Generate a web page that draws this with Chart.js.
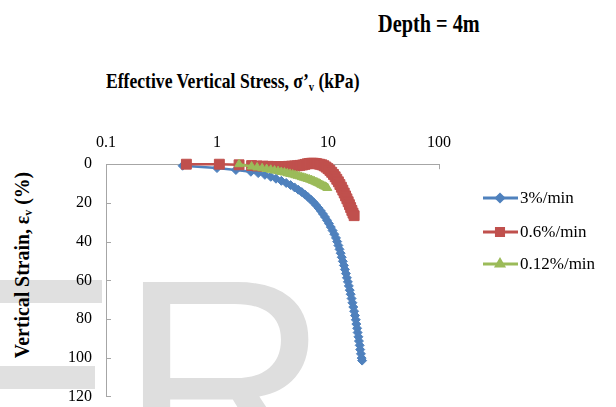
<!DOCTYPE html>
<html>
<head>
<meta charset="utf-8">
<script src="https://cdn.jsdelivr.net/npm/chart.js@4.4.0/dist/chart.umd.min.js"></script>
<style>
  html, body { margin: 0; padding: 0; width: 616px; height: 407px; overflow: hidden; background: #fff; }
  #wrap { position: relative; width: 616px; height: 407px; overflow: hidden; }
  .mark { position: absolute; background: #e0e0e0; }
  #bigR { position: absolute; left: 119px; top: 236px; font: 292px/1 "Liberation Sans", Arial, sans-serif; color: #dedede; }
  .ttl { position: absolute; font-family: "Liberation Serif", "Times New Roman", serif; font-weight: bold; color: #000; white-space: nowrap; line-height: 1; }
  .ttl sub { font-size: 0.6em; vertical-align: -0.2em; line-height: 0; }
  canvas { position: absolute; left: 0; top: 0; }
</style>
</head>
<body>
<div id="wrap">
  <div class="mark" style="left:0;top:280px;width:102px;height:23px"></div>
  <div class="mark" style="left:0;top:366px;width:95px;height:23px"></div>
  <div id="bigR">R</div>
  <div class="ttl" style="left:378px;top:11px;font-size:26px;transform:scaleX(0.78);transform-origin:left top">Depth = 4m</div>
  <div class="ttl" style="left:106px;top:70px;font-size:22px;transform:scaleX(0.8);transform-origin:left top">Effective Vertical Stress, σ’<sub>v</sub> (kPa)</div>
  <div class="ttl" style="left:22px;top:265px;font-size:22px;transform:translate(-50%,-50%) rotate(-90deg) scaleX(0.9)">Vertical Strain, ε<sub>v</sub> (%)</div>
  <canvas id="myChart" width="616" height="420"></canvas>
</div>
<script>
// 축 눈금
const xTicks = [0.1, 1, 10, 100];
const yTicks = [0, 20, 40, 60, 80, 100, 120];
const seriesNames = ['3%/min', '0.6%/min', '0.12%/min'];

// 3%/min
const stressA = [0.49, 1.0, 1.48, 2.02, 2.35, 2.7, 3.05, 3.4, 3.8, 4.2, 4.6, 5.0, 5.4, 5.8, 6.2, 6.6, 7.0, 7.4, 7.8, 8.2,
  8.6, 9.0, 9.4, 9.8, 10.2, 10.6, 11.0, 11.4, 11.8, 12.1, 12.4, 12.7, 13.0, 13.3, 13.6, 13.9, 14.2, 14.5, 14.8, 15.1,
  15.4, 15.7, 16.0, 16.3, 16.6, 16.9, 17.2, 17.5, 17.8, 18.0, 18.3, 18.5, 18.8, 19.0, 19.3, 19.5, 19.8, 20.1, 20.3];
const strainA = [0.8, 2.0, 3.0, 3.9, 4.6, 5.5, 6.5, 7.5, 8.6, 9.7, 10.8, 12.0, 13.2, 14.4, 15.7, 17.0, 18.3, 19.7, 21.1, 22.6,
  24.1, 25.7, 27.3, 29.0, 30.7, 32.5, 34.3, 36.2, 38.1, 40.0, 42.0, 44.0, 46.0, 48.1, 50.2, 52.3, 54.4, 56.5, 58.7, 60.8,
  62.9, 65.1, 67.2, 69.4, 71.6, 73.8, 76.0, 78.2, 80.4, 82.6, 84.8, 87.0, 89.2, 91.4, 93.6, 95.8, 98.0, 100.2, 101.5];

// 0.6%/min
const stressB = [0.53, 1.05, 1.58, 2.05, 2.3, 2.6, 2.9, 3.2, 3.5, 3.8, 4.1, 4.4, 4.7, 5.0, 5.3, 5.6, 5.9, 6.2, 6.5, 6.8,
  7.1, 7.4, 7.7, 8.0, 8.4, 8.8, 9.2, 9.6, 10.0, 10.4, 10.8, 11.2, 11.6, 12.0, 12.4, 12.8, 13.2, 13.6, 14.0, 14.4,
  14.8, 15.2, 15.6, 16.0, 16.4, 16.8, 17.2];
const strainB = [0, 0, 0.3, 0.7, 0.9, 1.0, 1.1, 1.2, 1.2, 1.2, 1.2, 1.1, 1.0, 0.9, 0.8, 0.6, 0.4, 0.1, -0.2, -0.4,
  -0.5, -0.5, -0.4, -0.2, 0, 0.3, 0.8, 1.5, 2.3, 3.2, 4.2, 5.3, 6.5, 7.8, 9.1, 10.5, 11.9, 13.4, 14.9, 16.4,
  17.9, 19.4, 20.9, 22.4, 23.9, 25.3, 26.6];

// 0.12%/min
const stressC = [1.58, 2.05, 2.3, 2.55, 2.8, 3.05, 3.3, 3.55, 3.8, 4.05, 4.3, 4.55, 4.8, 5.05, 5.3, 5.55, 5.8, 6.05, 6.3, 6.55,
  6.8, 7.05, 7.3, 7.55, 7.8, 8.05, 8.3, 8.55, 8.8, 9.1, 9.4, 9.7, 9.9];
const strainC = [0, 1.2, 1.7, 2.1, 2.5, 2.9, 3.3, 3.6, 4.0, 4.3, 4.7, 5.0, 5.3, 5.7, 6.0, 6.3, 6.7, 7.0, 7.3, 7.6,
  7.9, 8.2, 8.6, 8.9, 9.3, 9.6, 10.0, 10.4, 10.8, 11.2, 11.6, 12.0, 12.3];

const toPoints = (xs, ys) => xs.map((v, i) => ({ x: v, y: ys[i] }));

const axisColor = '#a6a6a6';
const serif = '"Liberation Serif", "Times New Roman", serif';

const datasets = [
  { label: seriesNames[0], data: toPoints(stressA, strainA), borderColor: '#4F81BD', backgroundColor: '#4F81BD',
    pointStyle: 'rectRot', pointRadius: 4.5, order: 3 },
  { label: seriesNames[1], data: toPoints(stressB, strainB), borderColor: '#C0504D', backgroundColor: '#C0504D',
    pointStyle: 'rect', pointRadius: 7, order: 2 },
  { label: seriesNames[2], data: toPoints(stressC, strainC), borderColor: '#9BBB59', backgroundColor: '#9BBB59',
    pointStyle: 'triangle', pointRadius: 5, order: 1 }
].map(d => Object.assign(d, { borderWidth: 2.5, pointBorderWidth: 1, tension: 0, clip: false }));

// 안쪽 눈금 + 범례
const extras = {
  id: 'extras',
  beforeDatasetsDraw(chart) {
    const { ctx, chartArea: ca, scales: { x, y } } = chart;
    ctx.save();
    ctx.strokeStyle = axisColor;
    ctx.lineWidth = 1;
    ctx.beginPath();
    yTicks.forEach(v => {
      const py = Math.round(y.getPixelForValue(v)) + 0.5;
      ctx.moveTo(ca.left, py); ctx.lineTo(ca.left + 5, py);
    });
    xTicks.forEach(v => {
      const px = Math.round(x.getPixelForValue(v)) + 0.5;
      ctx.moveTo(px, ca.top); ctx.lineTo(px, ca.top + 5);
    });
    ctx.stroke();
    ctx.restore();
  },
  afterDraw(chart) {
    const ctx = chart.ctx;
    const rows = [198, 232, 264];
    const sizes = [3.5, 5, 4];
    ctx.save();
    chart.data.datasets.forEach((ds, i) => {
      const yy = rows[i];
      ctx.strokeStyle = ds.borderColor;
      ctx.lineWidth = 3;
      ctx.beginPath();
      ctx.moveTo(483, yy); ctx.lineTo(518, yy);
      ctx.stroke();
      ctx.fillStyle = ds.backgroundColor;
      Chart.helpers.drawPoint(ctx, { pointStyle: ds.pointStyle, radius: sizes[i], borderWidth: 1, rotation: 0 }, 500, yy);
      ctx.fill();
      ctx.fillStyle = '#000';
      ctx.font = '17px ' + serif;
      ctx.textBaseline = 'middle';
      ctx.fillText(ds.label, 520, yy + 1);
    });
    ctx.restore();
  }
};

const ctx = document.getElementById('myChart').getContext('2d');
new Chart(ctx, {
  type: 'line',
  data: { datasets: datasets },
  options: {
    responsive: false,
    animation: false,
    layout: { padding: { left: 54, top: 121, right: 177, bottom: 23 } },
    plugins: { legend: { display: false }, tooltip: { enabled: false } },
    scales: {
      x: {
        type: 'logarithmic', position: 'top', min: 0.1, max: 100,
        afterBuildTicks: a => { a.ticks = xTicks.map(v => ({ value: v })); },
        ticks: { callback: v => String(v), color: '#000', font: { family: serif, size: 16 }, padding: 12,
                 maxRotation: 0, autoSkip: false },
        grid: { display: false, drawTicks: false },
        border: { color: axisColor, width: 1 }
      },
      y: {
        type: 'linear', reverse: true, min: 0, max: 120,
        afterBuildTicks: a => { a.ticks = yTicks.map(v => ({ value: v })); },
        ticks: { color: '#000', font: { family: serif, size: 16 }, padding: 14 },
        grid: { display: false, drawTicks: false },
        border: { color: axisColor, width: 1 }
      }
    }
  },
  plugins: [extras]
});
</script>
</body>
</html>
